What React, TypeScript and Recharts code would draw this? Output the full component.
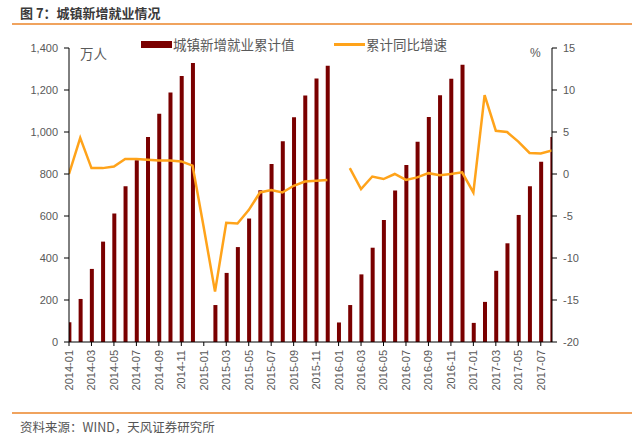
import React from 'react';
import { ComposedChart, Bar, Line, XAxis, YAxis } from 'recharts';

const months = [
  '2014-01','2014-02','2014-03','2014-04','2014-05','2014-06','2014-07','2014-08','2014-09','2014-10','2014-11','2014-12',
  '2015-01','2015-02','2015-03','2015-04','2015-05','2015-06','2015-07','2015-08','2015-09','2015-10','2015-11','2015-12',
  '2016-01','2016-02','2016-03','2016-04','2016-05','2016-06','2016-07','2016-08','2016-09','2016-10','2016-11','2016-12',
  '2017-01','2017-02','2017-03','2017-04','2017-05','2017-06','2017-07','2017-08',
];

const cumulative: (number | null)[] = [
  94, 205, 348, 478, 612, 742, 865, 976, 1087, 1188, 1267, 1328,
  null, 176, 329, 452, 588, 723, 848, 956, 1070, 1174, 1255, 1316,
  93, 176, 322, 449, 581, 722, 843, 954, 1072, 1175, 1253, 1320,
  91, 191, 339, 470, 605, 742, 858, 976,
];

const growth: (number | null)[] = [
  0.0, 4.3, 0.7, 0.7, 0.9, 1.8, 1.8, 1.7, 1.6, 1.6, 1.5, 1.0,
  -6.4, -14.0, -5.8, -5.9, -4.3, -2.2, -1.9, -2.2, -1.4, -0.9, -0.8, -0.7,
  null, 0.7, -1.8, -0.3, -0.6, 0.0, -0.7, -0.4, 0.1, -0.15, 0.0, 0.2,
  -2.2, 9.4, 5.15, 5.0, 3.85, 2.5, 2.45, 2.8,
];

const leftTicks = [0, 200, 400, 600, 800, 1000, 1200, 1400];
const rightTicks = [-20, -15, -10, -5, 0, 5, 10, 15];
const xTickIdx = months.map((_, i) => i).filter((i) => i % 2 === 0);

const data = months.map((m, i) => ({ idx: i, month: m, cum: cumulative[i], g: growth[i] }));

const BAR = '#7a0000';
const LINE = '#ffa31a';
const TXT = '#595959';
const ORANGE = '#f0a35e';
const CN = '"Noto Sans CJK SC", "Noto Sans", sans-serif';
const NUM = '"Liberation Sans", Arial, sans-serif';

const XTick = (props: any) => {
  const { x, y, payload } = props;
  return (
    <g transform={`translate(${x},${y})`}>
      <text x={-2} y={0} dy="0.36em" transform="rotate(-90)" textAnchor="end" fill={TXT} fontSize={11} fontFamily={NUM}>
        {months[payload.value]}
      </text>
    </g>
  );
};

export default function App() {
  return (
    <div style={{ position: 'absolute', left: 0, top: 0, width: 640, height: 439, background: '#fff', overflow: 'hidden' }}>
      <div style={{ position: 'absolute', left: 20, top: 3, fontFamily: CN, fontWeight: 700, fontSize: 13, color: '#3a3a3a', lineHeight: '19px', whiteSpace: 'nowrap' }}>
        图 7：城镇新增就业情况
      </div>
      <div style={{ position: 'absolute', left: 12, top: 23, width: 620, height: 2, background: ORANGE }} />
      <ComposedChart
        width={640}
        height={439}
        data={data}
        margin={{ top: 48, right: 38, left: 0, bottom: 47 }}
        style={{ position: 'absolute', left: 0, top: 0 }}
      >
        <XAxis
          dataKey="idx"
          type="number"
          domain={[0, 43]}
          ticks={xTickIdx}
          interval={0}
          tick={<XTick />}
          tickSize={4}
          tickMargin={2}
          height={50}
          axisLine={{ stroke: '#000' }}
          tickLine={{ stroke: '#000' }}
          allowDataOverflow
        />
        <YAxis
          yAxisId="left"
          domain={[0, 1400]}
          ticks={leftTicks}
          interval={0}
          width={69}
          tickSize={5}
          tickMargin={6}
          tickFormatter={(v: number) => v.toLocaleString('en-US')}
          tick={{ fill: TXT, fontSize: 11, fontFamily: NUM }}
          axisLine={{ stroke: '#000' }}
          tickLine={{ stroke: '#000' }}
        />
        <YAxis
          yAxisId="right"
          orientation="right"
          domain={[-20, 15]}
          ticks={rightTicks}
          interval={0}
          width={50}
          tickSize={5}
          tickMargin={6}
          tick={{ fill: TXT, fontSize: 11, fontFamily: NUM }}
          axisLine={{ stroke: '#000' }}
          tickLine={{ stroke: '#000' }}
        />
        <Bar yAxisId="left" dataKey="cum" fill={BAR} barSize={4} isAnimationActive={false} />
        <Line yAxisId="right" dataKey="g" stroke={LINE} strokeWidth={2.5} dot={false} activeDot={false} isAnimationActive={false} connectNulls={false} />
      </ComposedChart>
      <div style={{ position: 'absolute', left: 141, top: 41, width: 31, height: 7, background: BAR }} />
      <div style={{ position: 'absolute', left: 173, top: 35, fontFamily: CN, fontSize: 13.5, color: TXT, lineHeight: '18px', whiteSpace: 'nowrap' }}>
        城镇新增就业累计值
      </div>
      <div style={{ position: 'absolute', left: 334, top: 43, width: 31, height: 3, background: LINE }} />
      <div style={{ position: 'absolute', left: 366, top: 35, fontFamily: CN, fontSize: 13.5, color: TXT, lineHeight: '18px', whiteSpace: 'nowrap' }}>
        累计同比增速
      </div>
      <div style={{ position: 'absolute', left: 80, top: 44, fontFamily: CN, fontSize: 13.5, color: TXT, lineHeight: '18px', whiteSpace: 'nowrap' }}>
        万人
      </div>
      <div style={{ position: 'absolute', left: 530, top: 45, fontFamily: NUM, fontSize: 12, color: TXT, lineHeight: '16px' }}>
        %
      </div>
      <div style={{ position: 'absolute', left: 12, top: 412, width: 620, height: 2, background: ORANGE }} />
      <div style={{ position: 'absolute', left: 20, top: 418, fontFamily: CN, fontSize: 12.5, color: '#555', lineHeight: '18px', whiteSpace: 'nowrap' }}>
        资料来源：WIND，天风证券研究所
      </div>
    </div>
  );
}
